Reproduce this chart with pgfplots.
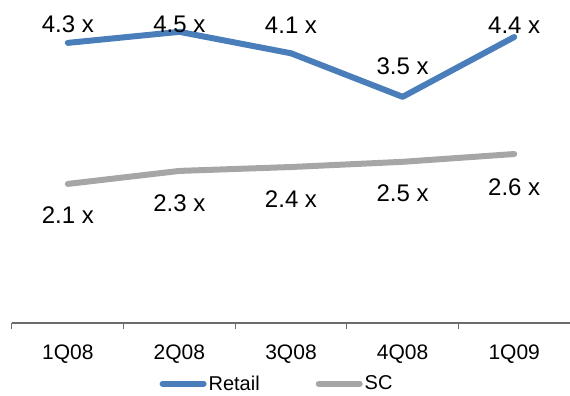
\documentclass[border=0pt]{standalone}
\usepackage{pgfplots}
\pgfplotsset{compat=1.18}
\usepackage{pgfplotstable}
\usepackage{fontspec}
\setmainfont{Liberation Sans}
\definecolor{retail}{HTML}{4A7EBB}
\definecolor{scgray}{HTML}{A6A6A6}
\pgfplotstableread{
x y lab dy
0 4.31 4.3 10
1 4.48 4.5 -1
2 4.15 4.1 20
3 3.48 3.5 22
4 4.40 4.4 4
}\retaildata
\pgfplotstableread{
x y lab dy
0 2.14 2.1 -40
1 2.34 2.3 -41
2 2.40 2.4 -40
3 2.48 2.5 -40
4 2.60 2.6 -41
}\scdata
\begin{document}
\begin{tikzpicture}[x=1pt,y=1pt]
\useasboundingbox (0,0) rectangle (570,396);
\begin{axis}[at={(12pt,73pt)}, anchor=south west, scale only axis,
  width=558pt, height=323pt,
  xmin=-0.5, xmax=4.5, ymin=0, ymax=4.97,
  axis y line=none, axis x line*=bottom,
  xtick={0,...,4}, xticklabels={1Q08,2Q08,3Q08,4Q08,1Q09},
  major tick length=0pt,
  minor xtick={-0.5,0.5,1.5,2.5,3.5,4.5}, minor tick length=6pt, tick align=outside,
  x axis line style={draw=gray!85!black, line width=1pt},
  every minor tick/.style={draw=gray!85!black, line width=1pt},
  xticklabel style={font=\fontsize{21}{25}\selectfont, anchor=base, yshift=-36pt},
  clip=false,
  nodes near coords={\pgfplotspointmeta~x},
  point meta=explicit symbolic,
  visualization depends on={\thisrow{dy} \as \dy},
  every node near coord/.append style={font=\fontsize{24}{28}\selectfont, anchor=base, yshift=\dy pt, inner sep=0pt, text=black},
  legend columns=2,
  legend style={draw=none, fill=none, at={(0.475,-0.188)}, anchor=center,
    font=\fontsize{20}{24}\selectfont, /tikz/every even column/.append style={column sep=54pt}},
  legend image code/.code={\draw[#1, line width=6pt, line cap=round] (3pt,0pt) -- (44pt,0pt);},
]
\addplot[retail, line width=6pt, line cap=round, line join=round, mark=none] table[x=x, y=y, meta=lab] {\retaildata};
\addlegendentry{Retail}
\addplot[scgray, line width=6pt, line cap=round, line join=round, mark=none] table[x=x, y=y, meta=lab] {\scdata};
\addlegendentry{SC}
\end{axis}
\end{tikzpicture}
\end{document}
